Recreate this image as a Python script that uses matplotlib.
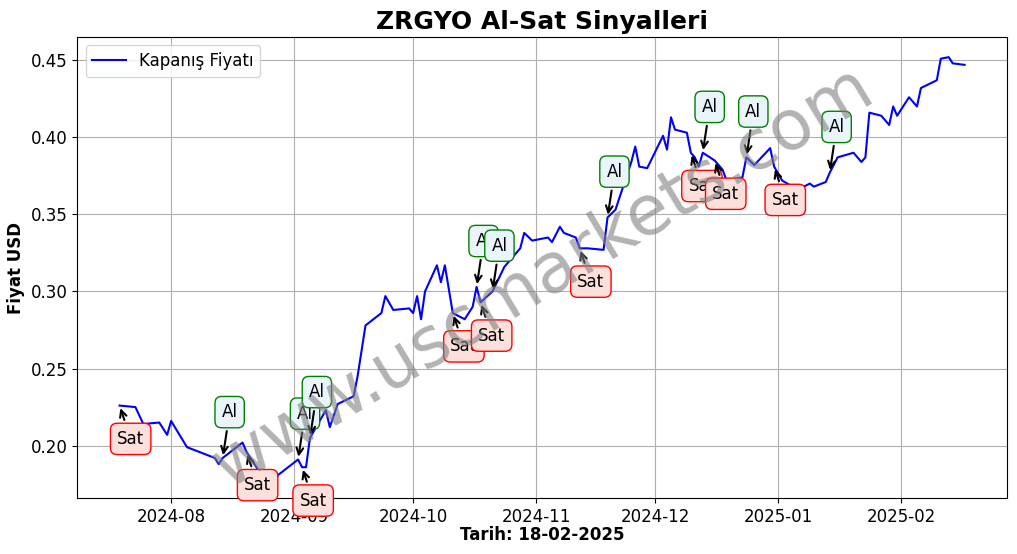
import matplotlib
matplotlib.use("Agg")
import matplotlib.pyplot as plt
import matplotlib.dates as mdates
import pandas as pd

dates = ["2024-07-19", "2024-07-23", "2024-07-25", "2024-07-29", "2024-07-31", "2024-08-01",
         "2024-08-05", "2024-08-07", "2024-08-12", "2024-08-13", "2024-08-14", "2024-08-19",
         "2024-08-20", "2024-08-23", "2024-08-27", "2024-08-28", "2024-09-02", "2024-09-03",
         "2024-09-04", "2024-09-05", "2024-09-09", "2024-09-10", "2024-09-12", "2024-09-16",
         "2024-09-17", "2024-09-19", "2024-09-23", "2024-09-24", "2024-09-26", "2024-09-30",
         "2024-10-01", "2024-10-02", "2024-10-03", "2024-10-04", "2024-10-07", "2024-10-08",
         "2024-10-09", "2024-10-11", "2024-10-14", "2024-10-16", "2024-10-17", "2024-10-18",
         "2024-10-21", "2024-10-24", "2024-10-28", "2024-10-29", "2024-10-31", "2024-11-04",
         "2024-11-05", "2024-11-07", "2024-11-08", "2024-11-11", "2024-11-12", "2024-11-14",
         "2024-11-18", "2024-11-19", "2024-11-21", "2024-11-25", "2024-11-26", "2024-11-27",
         "2024-11-29", "2024-12-03", "2024-12-04", "2024-12-05", "2024-12-06", "2024-12-09",
         "2024-12-10", "2024-12-11", "2024-12-12", "2024-12-13", "2024-12-16", "2024-12-18",
         "2024-12-19", "2024-12-23", "2024-12-24", "2024-12-26", "2024-12-30", "2024-12-31",
         "2025-01-02", "2025-01-06", "2025-01-09", "2025-01-10", "2025-01-13", "2025-01-14",
         "2025-01-16", "2025-01-20", "2025-01-22", "2025-01-23", "2025-01-24", "2025-01-27",
         "2025-01-29", "2025-01-30", "2025-01-31", "2025-02-03", "2025-02-05", "2025-02-06",
         "2025-02-10", "2025-02-11", "2025-02-13", "2025-02-14", "2025-02-17"]
prices = [0.226, 0.225, 0.214, 0.215, 0.207, 0.216,
          0.199, 0.197, 0.192, 0.188, 0.192, 0.202,
          0.196, 0.184, 0.176, 0.181, 0.191, 0.186,
          0.186, 0.205, 0.223, 0.212, 0.227, 0.232,
          0.245, 0.278, 0.286, 0.297, 0.288, 0.289,
          0.286, 0.297, 0.282, 0.300, 0.317, 0.306,
          0.317, 0.286, 0.282, 0.290, 0.303, 0.293,
          0.300, 0.316, 0.328, 0.338, 0.333, 0.335,
          0.332, 0.342, 0.338, 0.335, 0.328, 0.328,
          0.327, 0.348, 0.353, 0.384, 0.394, 0.381,
          0.380, 0.401, 0.392, 0.413, 0.405, 0.403,
          0.390, 0.387, 0.381, 0.390, 0.385, 0.379,
          0.372, 0.374, 0.387, 0.382, 0.393, 0.381,
          0.372, 0.366, 0.370, 0.368, 0.371, 0.377,
          0.387, 0.390, 0.384, 0.387, 0.416, 0.414,
          0.408, 0.420, 0.414, 0.426, 0.420, 0.432,
          0.437, 0.451, 0.452, 0.448, 0.447]

al_dates = ["2024-08-14", "2024-09-02", "2024-09-05", "2024-10-17", "2024-10-21",
            "2024-11-19", "2024-12-13", "2024-12-24", "2025-01-14"]
sat_dates = ["2024-07-19", "2024-08-20", "2024-09-03", "2024-10-11", "2024-10-18",
             "2024-11-12", "2024-12-10", "2024-12-16", "2024-12-31"]

s = pd.Series(prices, index=pd.to_datetime(dates))

fig, ax = plt.subplots(figsize=(10.17, 5.54), dpi=100)
fig.subplots_adjust(left=0.076, right=0.99, top=0.933, bottom=0.101)

ax.plot(s.index, s.values, color="blue", label="Kapanış Fiyatı", zorder=2)

for d in al_dates:
    t = pd.Timestamp(d)
    ax.annotate("Al", xy=(t, s[t]), xytext=(5, 33), textcoords="offset points",
                ha="center", va="center", fontsize=12, zorder=5,
                bbox=dict(boxstyle="round,pad=0.4", fc="#eaf4fb", ec="green"),
                arrowprops=dict(arrowstyle="->", color="black", lw=1.5))
for d in sat_dates:
    t = pd.Timestamp(d)
    ax.annotate("Sat", xy=(t, s[t]), xytext=(8, -24), textcoords="offset points",
                ha="center", va="center", fontsize=12, zorder=5,
                bbox=dict(boxstyle="round,pad=0.4", fc="#fde0dc", ec="red"),
                arrowprops=dict(arrowstyle="->", color="black", lw=1.5))

ax.text(0.5, 0.48, "www.uscmarkets.com", transform=ax.transAxes, fontsize=50,
        color="gray", alpha=0.6, rotation=31, ha="center", va="center", zorder=6)

ax.set_ylim(0.166, 0.465)
ax.xaxis.set_major_locator(mdates.MonthLocator())
ax.xaxis.set_major_formatter(mdates.DateFormatter("%Y-%m"))
ax.tick_params(labelsize=12)
ax.grid(True)
ax.set_title("ZRGYO Al-Sat Sinyalleri", fontsize=18, fontweight="bold")
ax.set_xlabel("Tarih: 18-02-2025", fontsize=12, fontweight="bold", labelpad=0)
ax.set_ylabel("Fiyat USD", fontsize=12, fontweight="bold")
ax.legend(loc="upper left", fontsize=12)

fig.savefig("out.png")
